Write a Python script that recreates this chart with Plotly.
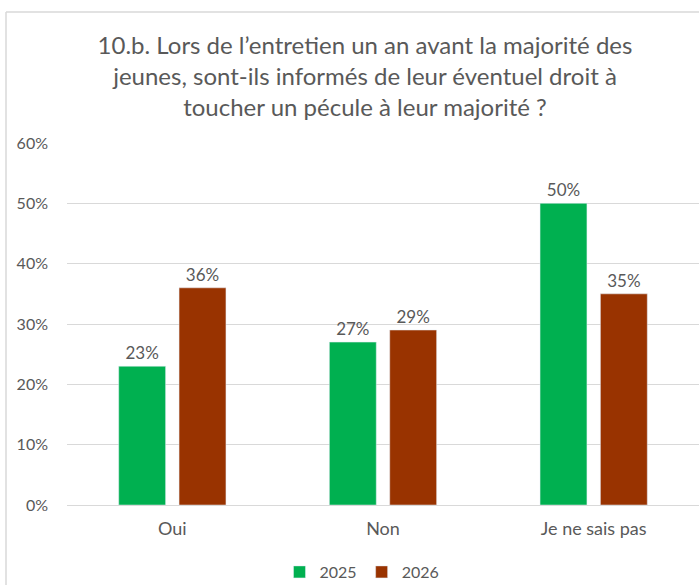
import plotly.graph_objects as go

categories = ["Oui", "Non", "Je ne sais pas"]
values_2025 = [0.23, 0.27, 0.50]
values_2026 = [0.36, 0.29, 0.35]
series_names = ["2025", "2026"]
tick_vals = [0, 0.1, 0.2, 0.3, 0.4, 0.5, 0.6]
tick_text = ["0%", "10%", "20%", "30%", "40%", "50%", "60%"]
title_text = ("10.b. Lors de l’entretien un an avant la majorité des<br>"
              "jeunes, sont-ils informés de leur éventuel droit à<br>"
              "toucher un pécule à leur majorité ?")

FONT = "Lato, Calibri, Carlito, sans-serif"
GREY = "#595959"
W, H = 699, 585
L, R, T, B = 67, 0, 143, 80
pw, ph = W - L - R, H - T - B

def px_x(x):
    return (x - L) / pw

def px_y(y):
    return (H - B - y) / ph

fig = go.Figure()
for name, vals, color in [(series_names[0], values_2025, "#00B050"),
                          (series_names[1], values_2026, "#993300")]:
    fig.add_trace(go.Bar(
        x=categories, y=vals, name=name, marker_color=color,
        text=[f"{round(v*100)}%" for v in vals], textposition="outside",
        textfont=dict(family=FONT, size=17, color=GREY), cliponaxis=False,
    ))

fig.update_layout(
    width=W, height=H,
    margin=dict(l=L, r=R, t=T, b=B, autoexpand=False),
    paper_bgcolor="white", plot_bgcolor="white",
    barmode="group", bargap=0.427, bargroupgap=0.223,
    title=dict(text=title_text, x=365 / W, xref="container", xanchor="center",
               y=1 - 54 / H, yref="container", yanchor="top",
               font=dict(family=FONT, size=24, color=GREY)),
    font=dict(family=FONT, size=16, color=GREY),
    legend=dict(orientation="h", x=px_x(362), xanchor="center", y=px_y(572),
                yanchor="middle", font=dict(family=FONT, size=16, color=GREY),
                itemwidth=30, traceorder="normal"),
    showlegend=True,
)
fig.update_yaxes(range=[0, 0.6], tickvals=tick_vals, ticktext=tick_text,
                 showgrid=True, gridcolor="#D9D9D9", gridwidth=1,
                 zeroline=True, zerolinecolor="#D9D9D9", zerolinewidth=1,
                 ticks="", ticklabelstandoff=18,
                 tickfont=dict(family=FONT, size=16, color=GREY))
fig.update_xaxes(showline=False, ticks="", ticklabelstandoff=11,
                 tickfont=dict(family=FONT, size=18, color=GREY))

fig.add_shape(type="line", xref="paper", yref="paper",
              x0=px_x(6), x1=px_x(6), y0=px_y(590), y1=px_y(12),
              line=dict(color="#D9D9D9", width=1.5))
fig.add_shape(type="line", xref="paper", yref="paper",
              x0=px_x(6), x1=px_x(705), y0=px_y(12), y1=px_y(12),
              line=dict(color="#D9D9D9", width=1.5))

fig.write_html("out.html",
               config={"displayModeBar": False},
               post_script="document.body.style.margin='0';"
                           "document.body.style.overflow='hidden';")
